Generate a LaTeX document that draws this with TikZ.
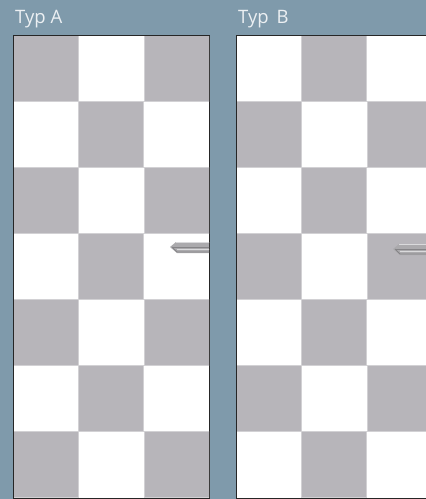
\documentclass[tikz,border=0pt]{standalone}
\usepackage{fontspec}
\setmainfont{Open Sans}
\definecolor{bluegrey}{HTML}{7F9AAB}
\definecolor{sq}{HTML}{B7B5BA}
\definecolor{sqedge}{HTML}{D2D1D4}
\definecolor{hbody}{HTML}{ABAAAD}
\definecolor{hdark}{HTML}{858487}
\definecolor{hlight}{HTML}{DADADC}
\tikzset{
  sqr/.style={fill=sq,draw=sqedge,line width=1pt},
  lbl/.style={text=white!85!bluegrey,font=\fontsize{18.5pt}{20pt}\selectfont,anchor=base west,inner sep=0pt},
  frame/.style={draw=black!85,line width=1pt,fill=white}
}
\newcommand{\myhandle}[2]{%
  \begin{scope}[shift={(#1,#2)}]
    \fill[hbody] (0,0) -- (6,-5) -- (40,-5) -- (40,6) -- (7,6) -- cycle;
    \draw[hlight,line width=.8pt] (6,-5) -- (40,-5);
    \draw[hdark,line width=1pt] (2,0) -- (40,0);
    \draw[hdark,line width=.8pt] (2,0) -- (7,5) -- (40,5);
    \draw[hlight,line width=.8pt] (7,2.5) -- (40,2.5);
  \end{scope}}
\begin{document}
\begin{tikzpicture}[x=1pt,y=-1pt]
\useasboundingbox (0,0) rectangle (426,499);
\fill[bluegrey] (0,0) rectangle (426,499);
\node[lbl] (labelA) at (15,23) {Typ A};
\node[lbl] (labelB) at (238,23) {Typ\, B};
% Panel A
\draw[frame] (13.5,35.5) rectangle (209.5,498.5);
\begin{scope}
  \clip (14,36) rectangle (209,498);
  \foreach \r in {0,...,6} \foreach \c in {0,1,2} {
    \pgfmathparse{int(mod(\r+\c,2))}
    \ifnum\pgfmathresult=0
      \draw[sqr] ({13.5+\c*65.3},{35+\r*66}) rectangle ++(65,66);
    \fi
  }
  \myhandle{170}{247}
\end{scope}
% Panel B
\draw[frame] (236.5,35.5) rectangle (430,498.5);
\begin{scope}
  \clip (237,36) rectangle (426,498);
  \foreach \r in {0,...,6} \foreach \c in {0,1,2} {
    \pgfmathparse{int(mod(\r+\c,2))}
    \ifnum\pgfmathresult=1
      \draw[sqr] ({236.5+\c*65.3},{35+\r*66}) rectangle ++(65,66);
    \fi
  }
  \myhandle{393}{249}
\end{scope}
\end{tikzpicture}
\end{document}
